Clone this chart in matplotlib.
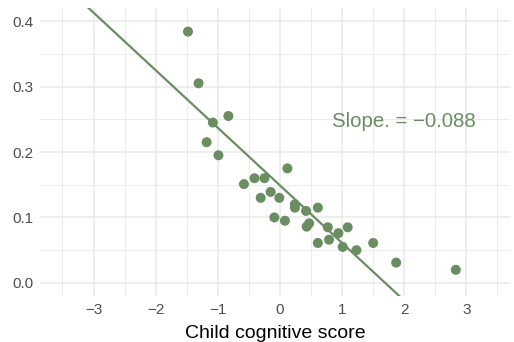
import numpy as np
import matplotlib.pyplot as plt
from matplotlib.ticker import MultipleLocator, FuncFormatter

plt.rcParams['font.family'] = ['Liberation Sans', 'DejaVu Sans']

# --- данные ---
x_score = [-1.48, -1.31, -1.08, -0.83, -1.18, -0.99,
           -0.58, -0.41, -0.25, 0.12, -0.31, -0.15, -0.01,
           0.24, 0.24, 0.42, 0.61, -0.09, 0.08, 0.43, 0.47,
           0.77, 0.94, 1.09, 0.61, 0.79, 1.01, 1.23, 1.50, 1.87, 2.83]
y_val = [0.384, 0.305, 0.245, 0.255, 0.215, 0.195,
         0.151, 0.160, 0.160, 0.175, 0.130, 0.139, 0.130,
         0.120, 0.115, 0.110, 0.115, 0.100, 0.095, 0.086, 0.091,
         0.085, 0.076, 0.085, 0.061, 0.066, 0.055, 0.050, 0.061, 0.031, 0.020]
slope = -0.088
intercept = 0.149
label = "Slope. = \u22120.088"

green = '#6a8d62'
grid_c = '#ebebeb'

fig = plt.figure(figsize=(5.14, 3.42), dpi=100)
ax = fig.add_axes([0.078, 0.1345, 0.914, 0.842])

ax.scatter(x_score, y_val, s=52, color=green, edgecolors='none', zorder=3)
ax.axline((0, intercept), slope=slope, color=green, lw=1.6, zorder=2)
ax.text(2.0, 0.247, label, color=green, fontsize=14.7, ha='center', va='center')

ax.set_xlim(-3.86, 3.70)
ax.set_ylim(-0.02, 0.42)

ax.xaxis.set_major_locator(MultipleLocator(1))
ax.xaxis.set_minor_locator(MultipleLocator(0.5))
ax.yaxis.set_major_locator(MultipleLocator(0.1))
ax.yaxis.set_minor_locator(MultipleLocator(0.05))
ax.xaxis.set_major_formatter(FuncFormatter(lambda v, p: f"{v:.0f}".replace('-', '\u2212')))
ax.yaxis.set_major_formatter(FuncFormatter(lambda v, p: f"{v:.1f}"))

ax.grid(True, which='major', color=grid_c, lw=1.2)
ax.grid(True, which='minor', color=grid_c, lw=0.7)
ax.set_axisbelow(True)
for s in ax.spines.values():
    s.set_visible(False)
ax.tick_params(which='both', length=0, labelsize=11, labelcolor='#4d4d4d', pad=5)

ax.set_xlabel("Child cognitive score", fontsize=14, color='black', labelpad=6)

fig.savefig('out.png', dpi=100)
